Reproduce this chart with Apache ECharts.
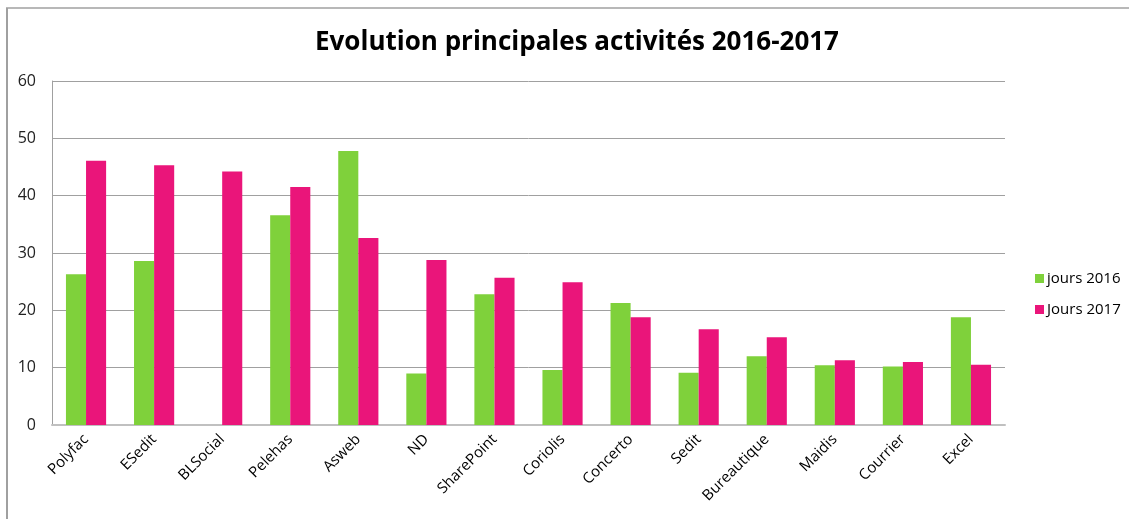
<!DOCTYPE html>
<html><head><meta charset="utf-8">
<script src="https://cdn.jsdelivr.net/npm/echarts@6/dist/echarts.min.js"></script>
<style>html,body{margin:0;padding:0;background:#fff}#c{width:1129px;height:519px}</style>
</head><body><div id="c"></div>
<script>
const categories = ["Polyfac","ESedit","BLSocial","Pelehas","Asweb","ND","SharePoint","Coriolis","Concerto","Sedit","Bureautique","Maidis","Courrier","Excel"];
const jours2016 = [26.3, 28.6, 0, 36.6, 47.8, 9.0, 22.8, 9.6, 21.3, 9.1, 12.0, 10.4, 10.2, 18.8];
const jours2017 = [46.1, 45.3, 44.2, 41.5, 32.6, 28.8, 25.7, 24.9, 18.8, 16.7, 15.3, 11.3, 11.0, 10.5];
const seriesNames = ["jours 2016", "Jours 2017"];
const yTicks = { min: 0, max: 60, interval: 10 };
const titleText = "Evolution principales activités 2016-2017";

const font = "'Open Sans', 'Noto Sans', sans-serif";
const chart = echarts.init(document.getElementById('c'), null, {renderer: 'canvas'});
chart.setOption({
  animation: false,
  backgroundColor: '#fff',
  graphic: [
    {type: 'line', shape: {x1: 7, y1: 8, x2: 7, y2: 519}, style: {stroke: '#a0a0a0', lineWidth: 2}},
    {type: 'line', shape: {x1: 6, y1: 8, x2: 1129, y2: 8}, style: {stroke: '#a0a0a0', lineWidth: 1.5}}
  ],
  title: {
    text: titleText, left: 310, top: 25,
    textStyle: {fontFamily: font, fontSize: 26, fontWeight: 'bold', color: '#000'}
  },
  legend: {
    orient: 'vertical', left: 1030, top: 266, itemWidth: 9, itemHeight: 9, itemGap: 16,
    icon: 'rect',
    textStyle: {fontFamily: font, fontSize: 15, color: '#000', padding: [0,0,0,-2]},
    data: seriesNames
  },
  grid: {left: 52, right: 124, top: 81, bottom: 94, containLabel: false},
  xAxis: {
    type: 'category', data: categories,
    axisLine: {show: true, lineStyle: {color: '#c0c0c0', width: 2}},
    axisTick: {show: false},
    axisLabel: {rotate: 45, interval: 0, margin: 12, fontFamily: font, fontSize: 15, color: '#000'}
  },
  yAxis: {
    type: 'value', min: yTicks.min, max: yTicks.max, interval: yTicks.interval,
    axisLine: {show: true, lineStyle: {color: '#a0a0a0', width: 1}},
    axisTick: {show: false},
    axisLabel: {margin: 16, fontFamily: font, fontSize: 16, color: '#222'},
    splitLine: {lineStyle: {color: '#a0a0a0', width: 1}}
  },
  series: [
    {name: seriesNames[0], type: 'bar', data: jours2016, barGap: '0%', barCategoryGap: '41%',
     itemStyle: {color: '#7fd13b'}},
    {name: seriesNames[1], type: 'bar', data: jours2017, barGap: '0%', barCategoryGap: '41%',
     itemStyle: {color: '#ea157a'}}
  ]
});
</script></body></html>
